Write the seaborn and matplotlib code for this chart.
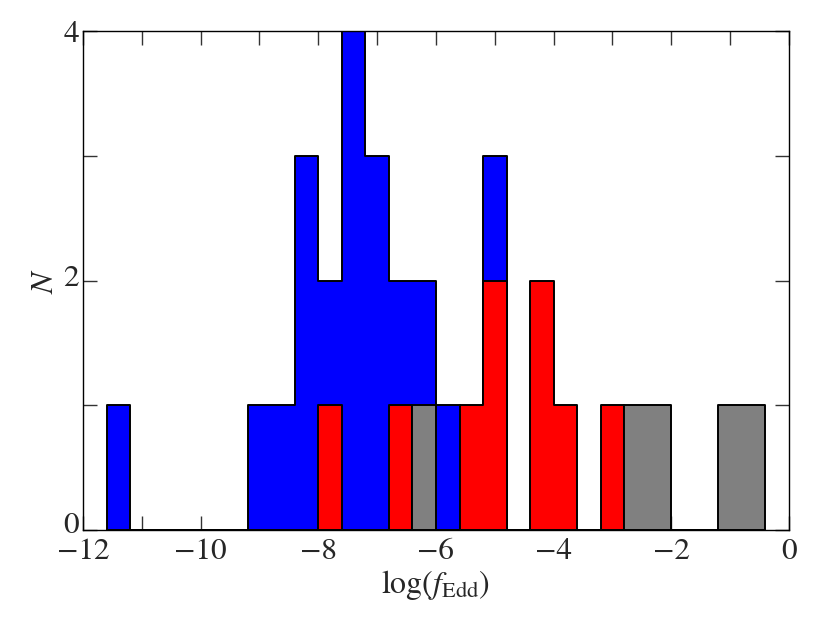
import numpy as np
import pandas as pd
import matplotlib
matplotlib.use('Agg')
import matplotlib.pyplot as plt
from matplotlib.ticker import MultipleLocator
from matplotlib.transforms import ScaledTranslation
import seaborn as sns

# histogram bins in log(f_Edd), 0.4 dex wide
bin_edges = np.round(np.linspace(-11.6, -0.4, 29), 2)

# counts per bin
blue_counts = [1, 0, 0, 0, 0, 0, 1, 1, 3, 2, 4, 3, 2, 2, 1, 0,
               3, 0, 0, 0, 0, 0, 0, 0, 0, 0, 0, 0]
red_counts = [0, 0, 0, 0, 0, 0, 0, 0, 0, 1, 0, 0, 1, 0, 0, 1,
              2, 0, 2, 1, 0, 1, 0, 0, 0, 0, 0, 0]
gray_counts = [0, 0, 0, 0, 0, 0, 0, 0, 0, 0, 0, 0, 0, 1, 0, 0,
               0, 0, 0, 0, 0, 0, 1, 1, 0, 0, 1, 1]

sns.set_style('ticks', {'xtick.direction': 'in', 'ytick.direction': 'in'})
plt.rcParams['font.family'] = ['STIXGeneral', 'DejaVu Serif']
plt.rcParams['mathtext.fontset'] = 'stix'
plt.rcParams['font.size'] = 22

centers = (bin_edges[:-1] + bin_edges[1:]) / 2

fig = plt.figure(figsize=(8.3, 6.23), dpi=100)
ax = fig.add_axes([0.1, 0.149, 0.8506, 0.801])

for counts, col in [(blue_counts, '#0000ff'), (red_counts, '#ff0000'), (gray_counts, '#808080')]:
    df = pd.DataFrame({'logf': centers, 'n': counts})
    sns.histplot(data=df, x='logf', weights='n', bins=list(bin_edges), element='step', fill=True,
                 color=col, alpha=1, edgecolor='black', linewidth=1.4, ax=ax)

ax.set_xlim(-12, 0)
ax.set_ylim(0, 4)
ax.xaxis.set_major_locator(MultipleLocator(2))
ax.xaxis.set_minor_locator(MultipleLocator(1))
ax.yaxis.set_major_locator(MultipleLocator(2))
ax.yaxis.set_minor_locator(MultipleLocator(1))
ax.tick_params(which='both', direction='in', top=True, right=True, length=10,
               width=1, color='#333333', labelsize=22.5)
ax.tick_params(axis='x', pad=6)
ax.tick_params(axis='y', pad=3)
for sp in ax.spines.values():
    sp.set_visible(True)
    sp.set_linewidth(1)
    sp.set_color('black')

# y tick labels sit a little above their ticks in the original
for tick, dy in zip(ax.yaxis.get_major_ticks(), [12, 8, 5]):
    lab = tick.label1
    lab.set_transform(lab.get_transform() + ScaledTranslation(0, dy / 100, fig.dpi_scale_trans))

ax.set_xlabel(r'$\log(f_{\rm Edd})$', fontsize=23, labelpad=1)
ax.set_ylabel(r'$N$', fontsize=23, labelpad=2)

fig.savefig('out.png', dpi=100)
